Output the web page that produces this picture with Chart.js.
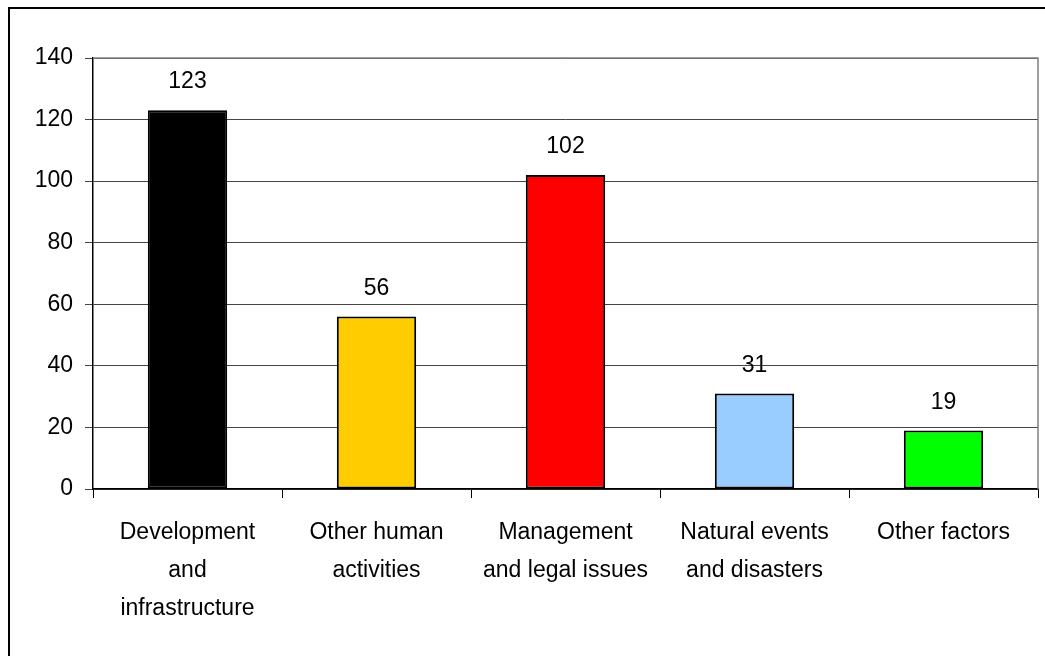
<!DOCTYPE html>
<html>
<head>
<meta charset="utf-8">
<script src="https://cdn.jsdelivr.net/npm/chart.js@4"></script>
<style>
    html, body { margin: 0; padding: 0; background: #fff; }
    #wrap { width: 1045px; height: 656px; position: relative; }
</style>
</head>
<body>
<div id="wrap"><canvas id="chart" width="1045" height="656"></canvas></div>
<script>
const categories = [
    ["Development", "and", "infrastructure"],
    ["Other human", "activities"],
    ["Management", "and legal issues"],
    ["Natural events", "and disasters"],
    ["Other factors"]
];
const counts = [123, 56, 102, 31, 19];
const barColors = ["#000000", "#FFCC00", "#FF0000", "#99CCFF", "#00FF00"];

const fontFamily = "'Liberation Sans', Arial, sans-serif";

const frameAndLabels = {
    id: "frameAndLabels",
    beforeDatasetsDraw(chart) {
        const { ctx, chartArea } = chart;
        ctx.save();
        ctx.strokeStyle = "#808080";
        ctx.lineWidth = 1.5;
        ctx.beginPath();
        ctx.moveTo(chartArea.left, chartArea.top);
        ctx.lineTo(chartArea.right, chartArea.top);
        ctx.lineTo(chartArea.right, chartArea.bottom);
        ctx.stroke();
        ctx.restore();
    },
    afterDatasetsDraw(chart) {
        const { ctx } = chart;
        const meta = chart.getDatasetMeta(0);
        ctx.save();
        ctx.fillStyle = "#000";
        ctx.font = "23px " + fontFamily;
        ctx.textAlign = "center";
        ctx.textBaseline = "alphabetic";
        meta.data.forEach((bar, i) => {
            ctx.fillText(String(counts[i]), bar.x, bar.y - 22);
        });
        ctx.restore();
    },
    afterDraw(chart) {
        const { ctx } = chart;
        ctx.save();
        ctx.strokeStyle = "#000";
        ctx.lineWidth = 2;
        ctx.strokeRect(9, 8, 1100, 700);
        ctx.restore();
    }
};

new Chart(document.getElementById("chart"), {
    type: "bar",
    data: {
        labels: categories,
        datasets: [{
            data: counts,
            backgroundColor: barColors,
            borderColor: "#000",
            borderWidth: 2,
            borderSkipped: false,
            categoryPercentage: 1,
            barPercentage: 0.42
        }]
    },
    plugins: [frameAndLabels],
    options: {
        responsive: false,
        animation: false,
        layout: { padding: { top: 58, right: 7, left: 0, bottom: 0 } },
        plugins: {
            legend: { display: false },
            tooltip: { enabled: false }
        },
        scales: {
            x: {
                afterFit(scale) { scale.height = 167; },
                grid: {
                    drawOnChartArea: false,
                    tickLength: 9,
                    color: "#000",
                    lineWidth: 1
                },
                border: { color: "#000", width: 1.5 },
                ticks: {
                    color: "#000",
                    padding: 16,
                    maxRotation: 0,
                    autoSkip: false,
                    font: { family: fontFamily, size: 23, lineHeight: 1.65 }
                }
            },
            y: {
                min: 0,
                max: 140,
                afterFit(scale) { scale.width = 93; },
                grid: {
                    color: "#444",
                    lineWidth: 1,
                    tickLength: 8
                },
                border: { color: "#000", width: 1.5 },
                ticks: {
                    stepSize: 20,
                    color: "#000",
                    padding: 12,
                    font: { family: fontFamily, size: 23 }
                }
            }
        }
    }
});
</script>
</body>
</html>
